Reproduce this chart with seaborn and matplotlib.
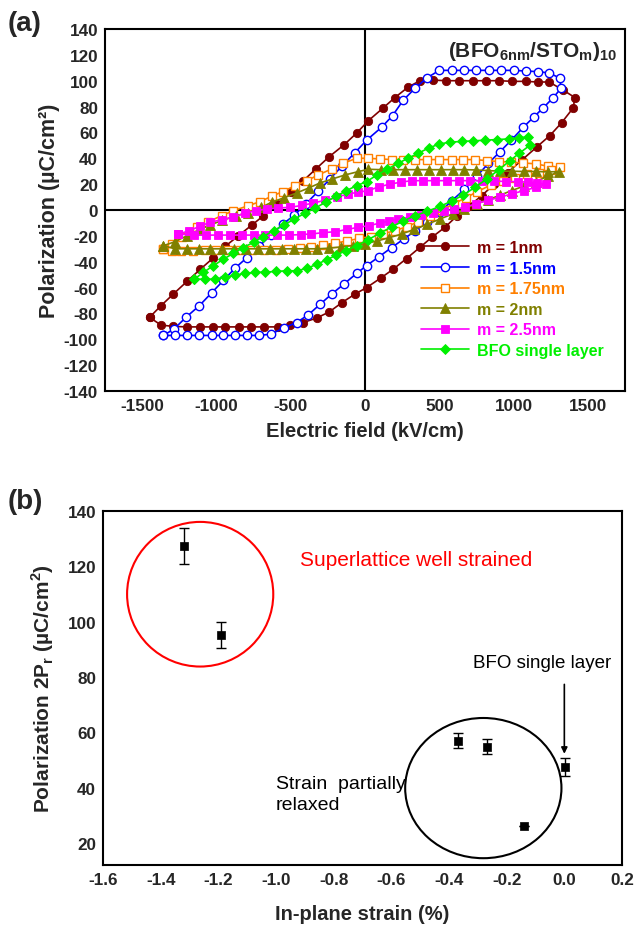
import matplotlib
matplotlib.use('Agg')
import matplotlib.pyplot as plt
from matplotlib.patches import Ellipse
from matplotlib.ticker import MultipleLocator
import seaborn as sns
import pandas as pd

# ---------------- panel (a): P-E loops ----------------
# each loop: upper branch (left tip -> right tip), then lower branch (right tip -> left tip)
M1_UP_E = [-1450, -1373, -1290, -1196, -1110, -1021, -940, -853, -760, -684, -590, -500, -415, -330,
           -240, -141, -56, 22, 123, 202, 290, 370, 455, 543, 632, 724, 814, 903, 993, 1081, 1162,
           1240, 1330, 1413]
M1_UP_P = [-83, -74, -65, -55, -46, -37, -28, -20, -11.5, -4.5, 4.5, 13.7, 22.7, 31.8, 41.3, 50.4,
           59.5, 69, 79, 87, 95, 100, 100.5, 100, 100, 100, 100, 100, 99.5, 99.5, 99, 99, 93, 87]
M1_DN_E = [1402, 1323, 1245, 1155, 1060, 960, 870, 785, 700, 621, 538, 449, 370, 280, 191, 105, 11,
           -67, -155, -240, -325, -415, -505, -585, -682, -768, -851, -939, -1024, -1110, -1200,
           -1290, -1373, -1450]
M1_DN_P = [79, 67.4, 57.6, 48.6, 39, 29, 20, 11, 3, -4.4, -13.4, -21.2, -28.9, -37.5, -45.7, -52.7,
           -60, -65, -71.6, -78.8, -83.5, -87, -89, -90.4, -90.4, -90.4, -90.4, -90.4, -90.4, -90.4,
           -90.4, -90, -89, -83]

M15_UP_E = [-1357, -1285, -1205, -1115, -1032, -953, -875, -796, -713, -633, -554, -476, -395, -315,
            -235, -155, -70, 11, 112, 186, 258, 336, 415, 500, 583, 666, 750, 833, 916, 1000, 1083,
            1166, 1240, 1312, 1319]
M15_UP_P = [-97, -92, -83, -74, -64, -54.5, -45, -37, -28, -19.5, -11, -4, 5, 14.5, 24, 34, 44, 54,
            64, 73, 85, 94, 102, 108, 108, 108, 108, 108, 108, 108, 107.5, 107, 106, 102, 94]
M15_DN_E = [1268, 1200, 1137, 1066, 985, 908, 830, 752, 670, 583, 505, 420, 340, 260, 180, 96, 11,
            -56, -139, -224, -303, -381, -460, -543, -633, -713, -796, -875, -953, -1032, -1115,
            -1196, -1279, -1357]
M15_DN_P = [87, 79, 72, 64, 54, 45, 36, 26, 16, 7, -1.5, -9, -16, -22.5, -29, -36, -43, -49, -57,
            -65, -73, -81, -87, -91, -96, -97, -97, -97, -97, -97, -97, -97, -97, -97]

M175_UP_E = [-1357, -1300, -1234, -1180, -1133, -1054, -964, -886, -785, -707, -628, -554, -471,
             -392, -314, -224, -146, -56, 22, 100, 180, 254, 336, 415, 500, 583, 662, 740, 819, 900,
             985, 1066, 1149, 1234, 1312]
M175_UP_P = [-30, -26, -21, -17, -13.4, -9, -4.4, -0.5, 3.3, 6.5, 10.6, 14.2, 18.8, 22.7, 27.1,
             31.8, 36.2, 40, 40, 39.5, 39, 39, 39, 39, 39, 39, 39, 39, 38.2, 37.5, 37, 36.4, 35.7,
             33.8, 33]
M175_DN_E = [1250, 1170, 1090, 1010, 930, 850, 752, 680, 600, 520, 440, 360, 280, 200, 120, 40, -40,
             -120, -200, -280, -360, -440, -520, -600, -680, -760, -840, -920, -1000, -1080, -1160,
             -1240, -1300, -1357]
M175_DN_P = [31, 29, 27.5, 25, 22.5, 19.5, 14, 9.5, 5, 0, -4.5, -9, -13, -16, -18.5, -20.5, -22,
             -24, -25.5, -27, -28.5, -29.5, -30.5, -31, -31, -31, -31, -31, -31, -31, -31.5, -32,
             -32, -30]

M2_UP_E = [-1357, -1279, -1200, -1120, -1040, -960, -870, -785, -700, -628, -545, -460, -380, -303,
           -220, -135, -45, 22, 110, 190, 270, 350, 430, 510, 590, 670, 750, 830, 910, 990, 1070,
           1150, 1230, 1305]
M2_UP_P = [-27.6, -24.5, -20, -15.5, -11.5, -8, -4.5, -2, 2, 6, 9.5, 13.2, 17, 20.9, 24, 27.1, 29.7,
           31.5, 31.2, 31.2, 31.2, 31.2, 31.2, 31.2, 31.2, 31.2, 31, 30.5, 30, 30, 29.8, 29.8, 29.5,
           29.7]
M2_DN_E = [1230, 1150, 1070, 987, 910, 830, 752, 670, 590, 505, 420, 330, 247, 160, 80, 0, -80,
           -160, -240, -320, -400, -480, -560, -640, -720, -800, -880, -960, -1040, -1120, -1200,
           -1279, -1357]
M2_DN_P = [26, 22, 18.5, 15, 11.5, 8, 4.7, 1, -3, -7, -11, -15, -18.6, -21.5, -24, -26, -27.5,
           -28.5, -29.5, -30, -30, -30, -30, -30, -30, -30, -30, -30, -30, -30, -30, -30, -27.6]

M25_UP_E = [-1256, -1182, -1110, -1043, -965, -886, -808, -735, -662, -585, -505, -425, -348, -270,
            -190, -112, -45, 22, 95, 168, 240, 314, 390, 470, 550, 630, 710, 790, 870, 950, 1030,
            1100, 1160, 1218]
M25_UP_P = [-18.6, -16, -12.5, -9.5, -7.5, -5.7, -2.3, -0.5, 0.8, 1.5, 2.1, 3.5, 5.4, 7.5, 10, 12.4,
            13.8, 15, 18, 20, 21.5, 22.7, 22.7, 22.7, 22.7, 22.7, 22.7, 22.7, 22.5, 22, 22, 21.5,
            21, 20]
M25_DN_E = [1150, 1070, 987, 910, 830, 750, 673, 600, 530, 460, 380, 300, 224, 160, 101, 30, -45,
            -120, -202, -280, -360, -430, -510, -590, -670, -750, -830, -910, -990, -1070, -1150,
            -1256]
M25_DN_P = [17.5, 15, 12.4, 10, 7.5, 5, 2.1, 0.5, -1, -2.5, -4, -5.5, -7, -8.5, -10.1, -12, -13.4,
            -15, -16.8, -17.5, -18.5, -19, -19.4, -19.4, -19.4, -19.4, -19.4, -19.4, -19.4, -19.4,
            -19.4, -18.6]

BFO_UP_E = [-1149, -1088, -1020, -953, -885, -819, -750, -684, -615, -545, -475, -405, -335, -265,
            -195, -125, -56, 11, 80, 150, 220, 290, 360, 430, 500, 572, 651, 730, 810, 890, 970,
            1040, 1099]
BFO_UP_P = [-53.5, -48.3, -43, -38, -33.5, -29, -25, -20.5, -16, -11.5, -7, -2.5, 1.5, 6, 10.5, 15,
            18.8, 22, 27, 31.5, 36, 40, 44, 48, 51, 52.5, 53, 53.5, 54, 54.5, 55, 56, 56.5]
BFO_DN_E = [1110, 1040, 976, 900, 819, 740, 662, 585, 505, 420, 336, 258, 180, 100, 20, -56, -130,
            -195, -258, -325, -392, -460, -527, -600, -670, -740, -808, -875, -940, -1009, -1080,
            -1149]
BFO_DN_P = [50, 44, 38.2, 31, 24, 17.5, 11.6, 7, 2.8, -1, -4.4, -8.5, -13, -18, -23, -27.6, -31.5,
            -35, -38.5, -42, -45.2, -47, -47, -47.5, -48, -48.3, -49, -50.4, -52, -53.5, -53.5,
            -53.5]

LOOP_LABELS = ['m = 1nm', 'm = 1.5nm', 'm = 1.75nm', 'm = 2nm', 'm = 2.5nm', 'BFO single layer']
LOOP_COLORS = ['#800000', '#0000FF', '#FF8000', '#808000', '#FF00FF', '#00F000']

# ---------------- panel (b): 2Pr vs in-plane strain ----------------
STRAIN = [-1.32, -1.19, -0.368, -0.267, -0.139, 0.003]
PR2 = [127.4, 95.1, 57.0, 54.8, 26.2, 47.3]
PR2_ERR = [6.4, 4.8, 2.7, 2.7, 0.0, 3.2]


def style_axis(ax):
    for spine in ax.spines.values():
        spine.set_linewidth(1.5)
        spine.set_color('black')
    ax.tick_params(which='both', direction='in', top=False, right=False,
                   width=1.3, labelsize=12.3, pad=5, color='black')
    ax.tick_params(which='major', length=6)
    ax.tick_params(which='minor', length=3.5)
    for lab in ax.get_xticklabels() + ax.get_yticklabels():
        lab.set_fontweight('bold')


def draw_loops(ax):
    loops = [
        (M1_UP_E + M1_DN_E, M1_UP_P + M1_DN_P, 'o', True, 6.0),
        (M15_UP_E + M15_DN_E, M15_UP_P + M15_DN_P, 'o', False, 6.0),
        (M175_UP_E + M175_DN_E, M175_UP_P + M175_DN_P, 's', False, 5.5),
        (M2_UP_E + M2_DN_E, M2_UP_P + M2_DN_P, '^', True, 6.5),
        (M25_UP_E + M25_DN_E, M25_UP_P + M25_DN_P, 's', True, 5.5),
        (BFO_UP_E + BFO_DN_E, BFO_UP_P + BFO_DN_P, 'D', True, 5.5),
    ]
    ax.axhline(0, color='black', lw=1.5, zorder=1)
    ax.axvline(0, color='black', lw=1.5, zorder=1)
    for (e, p, mk, filled, ms), lab, col in zip(loops, LOOP_LABELS, LOOP_COLORS):
        df = pd.DataFrame({'E': e, 'P': p})
        sns.lineplot(data=df, x='E', y='P', sort=False, estimator=None, ax=ax,
                     color=col, lw=1.2, marker=mk, markersize=ms,
                     markerfacecolor=col if filled else 'white',
                     markeredgecolor=col, markeredgewidth=1.0 if not filled else 0.6,
                     label=lab, zorder=3)

    ax.set_xlim(-1750, 1750)
    ax.set_ylim(-140, 140)
    ax.xaxis.set_major_locator(MultipleLocator(500))
    ax.xaxis.set_minor_locator(MultipleLocator(250))
    ax.yaxis.set_major_locator(MultipleLocator(20))
    ax.yaxis.set_minor_locator(MultipleLocator(10))
    ax.set_xlabel('Electric field (kV/cm)', fontsize=14.5, fontweight='bold', labelpad=6)
    ax.set_ylabel('Polarization (\u00b5C/cm\u00b2)', fontsize=15.5, fontweight='bold', labelpad=3)
    style_axis(ax)

    ax.legend(loc='upper left', bbox_to_anchor=(0.595, 0.435), frameon=False,
              handlelength=3.0, handletextpad=0.5, labelspacing=0.35,
              borderaxespad=0, prop={'weight': 'bold', 'size': 11.5},
              labelcolor='linecolor')
    ax.text(0.985, 0.972, r'$\mathbf{(BFO_{6nm}/STO_{m})_{10}}$', transform=ax.transAxes,
            ha='right', va='top', fontsize=15)


def draw_strain(ax):
    ax.errorbar(STRAIN, PR2, yerr=PR2_ERR, fmt='none', ecolor='black', elinewidth=1.0,
                capsize=3.5, capthick=1.0, zorder=2)
    sns.scatterplot(x=STRAIN, y=PR2, marker='s', s=36, color='black', edgecolor='black',
                    linewidth=0.5, ax=ax, zorder=3)

    ax.add_patch(Ellipse((-1.263, 109.9), 0.507, 52.3, fill=False, edgecolor='red', lw=1.5))
    ax.add_patch(Ellipse((-0.281, 39.8), 0.542, 50.7, fill=False, edgecolor='black', lw=1.5))

    ax.text(-0.917, 122.3, 'Superlattice well strained', color='red', fontsize=15,
            ha='left', va='center')
    ax.text(-1.0, 37.8, 'Strain  partially\nrelaxed', color='black', fontsize=14,
            ha='left', va='center', linespacing=1.3)
    ax.text(-0.077, 85.2, 'BFO single layer', color='black', fontsize=13.5,
            ha='center', va='center')
    ax.annotate('', xy=(0.0, 51.2), xytext=(0.0, 78.3),
                arrowprops=dict(arrowstyle='-|>', color='black', lw=1.2, mutation_scale=9))

    ax.set_xlim(-1.6, 0.2)
    ax.set_ylim(12, 140)
    ax.xaxis.set_major_locator(MultipleLocator(0.2))
    ax.xaxis.set_minor_locator(MultipleLocator(0.1))
    ax.yaxis.set_major_locator(MultipleLocator(20))
    ax.yaxis.set_minor_locator(MultipleLocator(10))
    ax.xaxis.set_major_formatter(plt.FuncFormatter(lambda v, _: f'{v:.1f}'))
    ax.set_xlabel('In-plane strain (%)', fontsize=14.5, fontweight='bold', labelpad=12)
    ax.set_ylabel('Polarization 2P$_\\mathbf{r}$ (\u00b5C/cm$^\\mathbf{2}$)', fontsize=15,
                  fontweight='bold', labelpad=8)
    style_axis(ax)


def main():
    sns.set_theme(style='white')
    plt.rcParams['font.family'] = ['Liberation Sans', 'DejaVu Sans']
    plt.rcParams['mathtext.fontset'] = 'custom'
    plt.rcParams['mathtext.rm'] = 'Liberation Sans'
    plt.rcParams['mathtext.bf'] = 'Liberation Sans:bold'
    plt.rcParams['axes.unicode_minus'] = False

    fig = plt.figure(figsize=(6.39, 9.37), dpi=100)
    ax_a = fig.add_axes([0.1643, 0.5816, 0.8137, 0.3864])
    ax_b = fig.add_axes([0.1612, 0.0758, 0.8122, 0.3778])

    draw_loops(ax_a)
    draw_strain(ax_b)

    fig.text(0.012, 0.974, '(a)', fontsize=20, fontweight='bold', va='center', ha='left')
    fig.text(0.012, 0.464, '(b)', fontsize=20, fontweight='bold', va='center', ha='left')

    fig.savefig('out.png', dpi=100)
    plt.close(fig)


if __name__ == '__main__':
    main()
